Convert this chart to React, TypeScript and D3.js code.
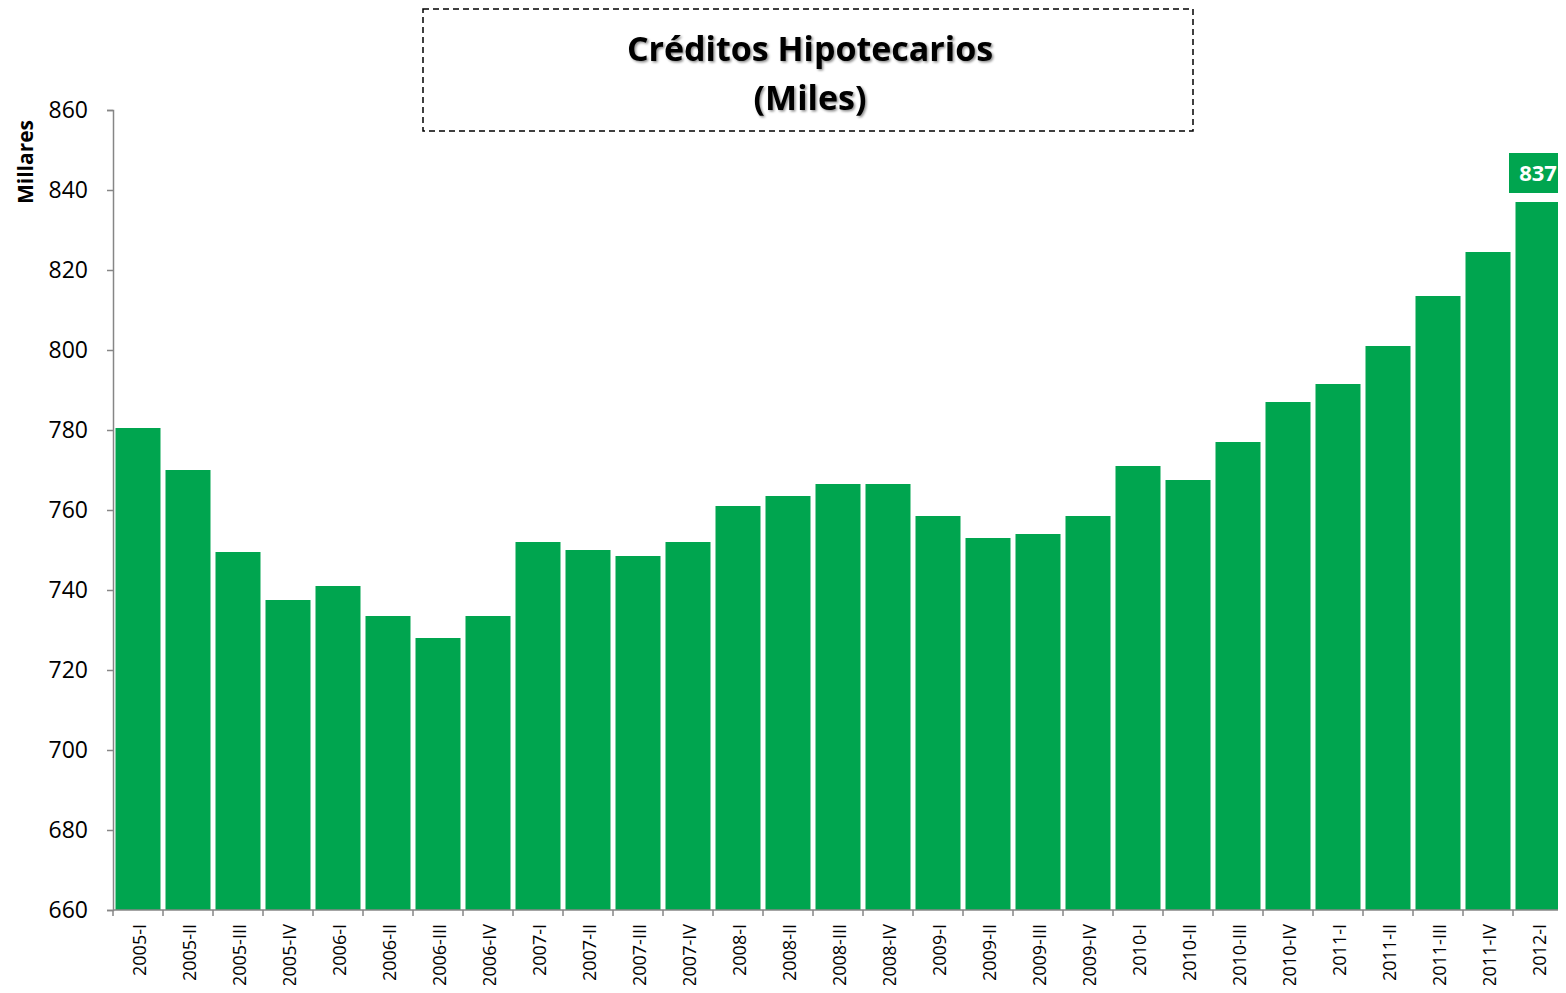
import React, { useEffect, useRef } from 'react';
import * as d3 from 'd3';

const quarters = [
  '2005-I', '2005-II', '2005-III', '2005-IV',
  '2006-I', '2006-II', '2006-III', '2006-IV',
  '2007-I', '2007-II', '2007-III', '2007-IV',
  '2008-I', '2008-II', '2008-III', '2008-IV',
  '2009-I', '2009-II', '2009-III', '2009-IV',
  '2010-I', '2010-II', '2010-III', '2010-IV',
  '2011-I', '2011-II', '2011-III', '2011-IV',
  '2012-I',
];

const creditos = [
  780.5, 770, 749.5, 737.5,
  741, 733.5, 728, 733.5,
  752, 750, 748.5, 752,
  761, 763.5, 766.5, 766.5,
  758.5, 753, 754, 758.5,
  771, 767.5, 777, 787,
  791.5, 801, 813.5, 824.5,
  837,
];

const yTicks = [660, 680, 700, 720, 740, 760, 780, 800, 820, 840, 860];

const GREEN = '#00a54f';
const FONT = '"Open Sans", Lato, sans-serif';

const App = () => {
  const ref = useRef<SVGSVGElement | null>(null);

  useEffect(() => {
    if (!ref.current) return;
    const svg = d3.select(ref.current);
    svg.selectAll('*').remove();

    const left = 113, right = 1563, top = 110, bottom = 910;

    const x = d3.scaleBand().domain(quarters).range([left, right]).paddingInner(0.1).paddingOuter(0.05);
    const y = d3.scaleLinear().domain([660, 860]).range([bottom, top]);

    // sombra del titulo
    const defs = svg.append('defs');
    const f = defs.append('filter').attr('id', 'shadow').attr('x', '-10%').attr('y', '-10%').attr('width', '120%').attr('height', '140%');
    f.append('feDropShadow').attr('dx', 1.5).attr('dy', 1.5).attr('stdDeviation', 1.2).attr('flood-color', '#000').attr('flood-opacity', 0.45);

    // barras
    svg.append('g').selectAll('rect')
      .data(creditos)
      .enter().append('rect')
      .attr('x', (_, i) => x(quarters[i])!)
      .attr('y', d => y(d))
      .attr('width', x.bandwidth())
      .attr('height', d => bottom - y(d))
      .attr('fill', GREEN);

    // eje y
    const yAxis = svg.append('g')
      .attr('transform', `translate(${left},0)`)
      .call(d3.axisLeft(y).tickValues(yTicks).tickSize(6).tickPadding(19).tickFormat(d3.format('d')));
    yAxis.select('.domain').attr('stroke', '#868686').attr('stroke-width', 1.5);
    yAxis.selectAll('.tick line').attr('stroke', '#868686').attr('stroke-width', 1.5);
    yAxis.selectAll('.tick text').attr('font-family', FONT).attr('font-size', 23).attr('fill', '#000');

    // eje x: marcas en los limites de cada banda
    const step = x.step();
    const xg = svg.append('g');
    xg.append('line')
      .attr('x1', left).attr('x2', right)
      .attr('y1', bottom).attr('y2', bottom)
      .attr('stroke', '#868686').attr('stroke-width', 1.5);
    xg.selectAll('line.tk')
      .data(d3.range(quarters.length + 1))
      .enter().append('line')
      .attr('class', 'tk')
      .attr('x1', i => left + i * step).attr('x2', i => left + i * step)
      .attr('y1', bottom).attr('y2', bottom + 6)
      .attr('stroke', '#868686').attr('stroke-width', 1.5);
    xg.selectAll('text')
      .data(quarters)
      .enter().append('text')
      .attr('transform', d => `translate(${x(d)! + x.bandwidth() / 2 + 8},${bottom + 14}) rotate(-90)`)
      .attr('text-anchor', 'end')
      .attr('font-family', FONT)
      .attr('font-size', 18)
      .attr('fill', '#000')
      .text(d => d);

    // etiqueta y
    svg.append('text')
      .attr('transform', `translate(33,162) rotate(-90)`)
      .attr('text-anchor', 'middle')
      .attr('font-family', FONT)
      .attr('font-weight', 700)
      .attr('font-size', 21)
      .text('Millares');

    // caja del titulo
    svg.append('rect')
      .attr('x', 423).attr('y', 9).attr('width', 770).attr('height', 122)
      .attr('fill', 'none').attr('stroke', '#000').attr('stroke-width', 1.5)
      .attr('stroke-dasharray', '6,4');
    const title = svg.append('text')
      .attr('text-anchor', 'middle')
      .attr('font-family', FONT)
      .attr('font-weight', 700)
      .attr('font-size', 34)
      .attr('filter', 'url(#shadow)');
    title.append('tspan').attr('x', 810).attr('y', 61).text('Créditos  Hipotecarios');
    title.append('tspan').attr('x', 810).attr('y', 110).text('(Miles)');

    // etiqueta del ultimo valor
    const last = quarters.length - 1;
    const lx = x(quarters[last])! + x.bandwidth() / 2;
    const ly = y(creditos[last]) - 29;
    svg.append('rect')
      .attr('x', lx - 29).attr('y', ly - 20).attr('width', 58).attr('height', 40)
      .attr('fill', GREEN);
    svg.append('text')
      .attr('x', lx).attr('y', ly + 8)
      .attr('text-anchor', 'middle')
      .attr('font-family', FONT)
      .attr('font-weight', 700)
      .attr('font-size', 22)
      .attr('fill', '#fff')
      .text(d3.format('d')(creditos[last]));
  }, []);

  return <svg ref={ref} width={1566} height={993} style={{ display: 'block', margin: '-8px' }} />;
};

export default App;
